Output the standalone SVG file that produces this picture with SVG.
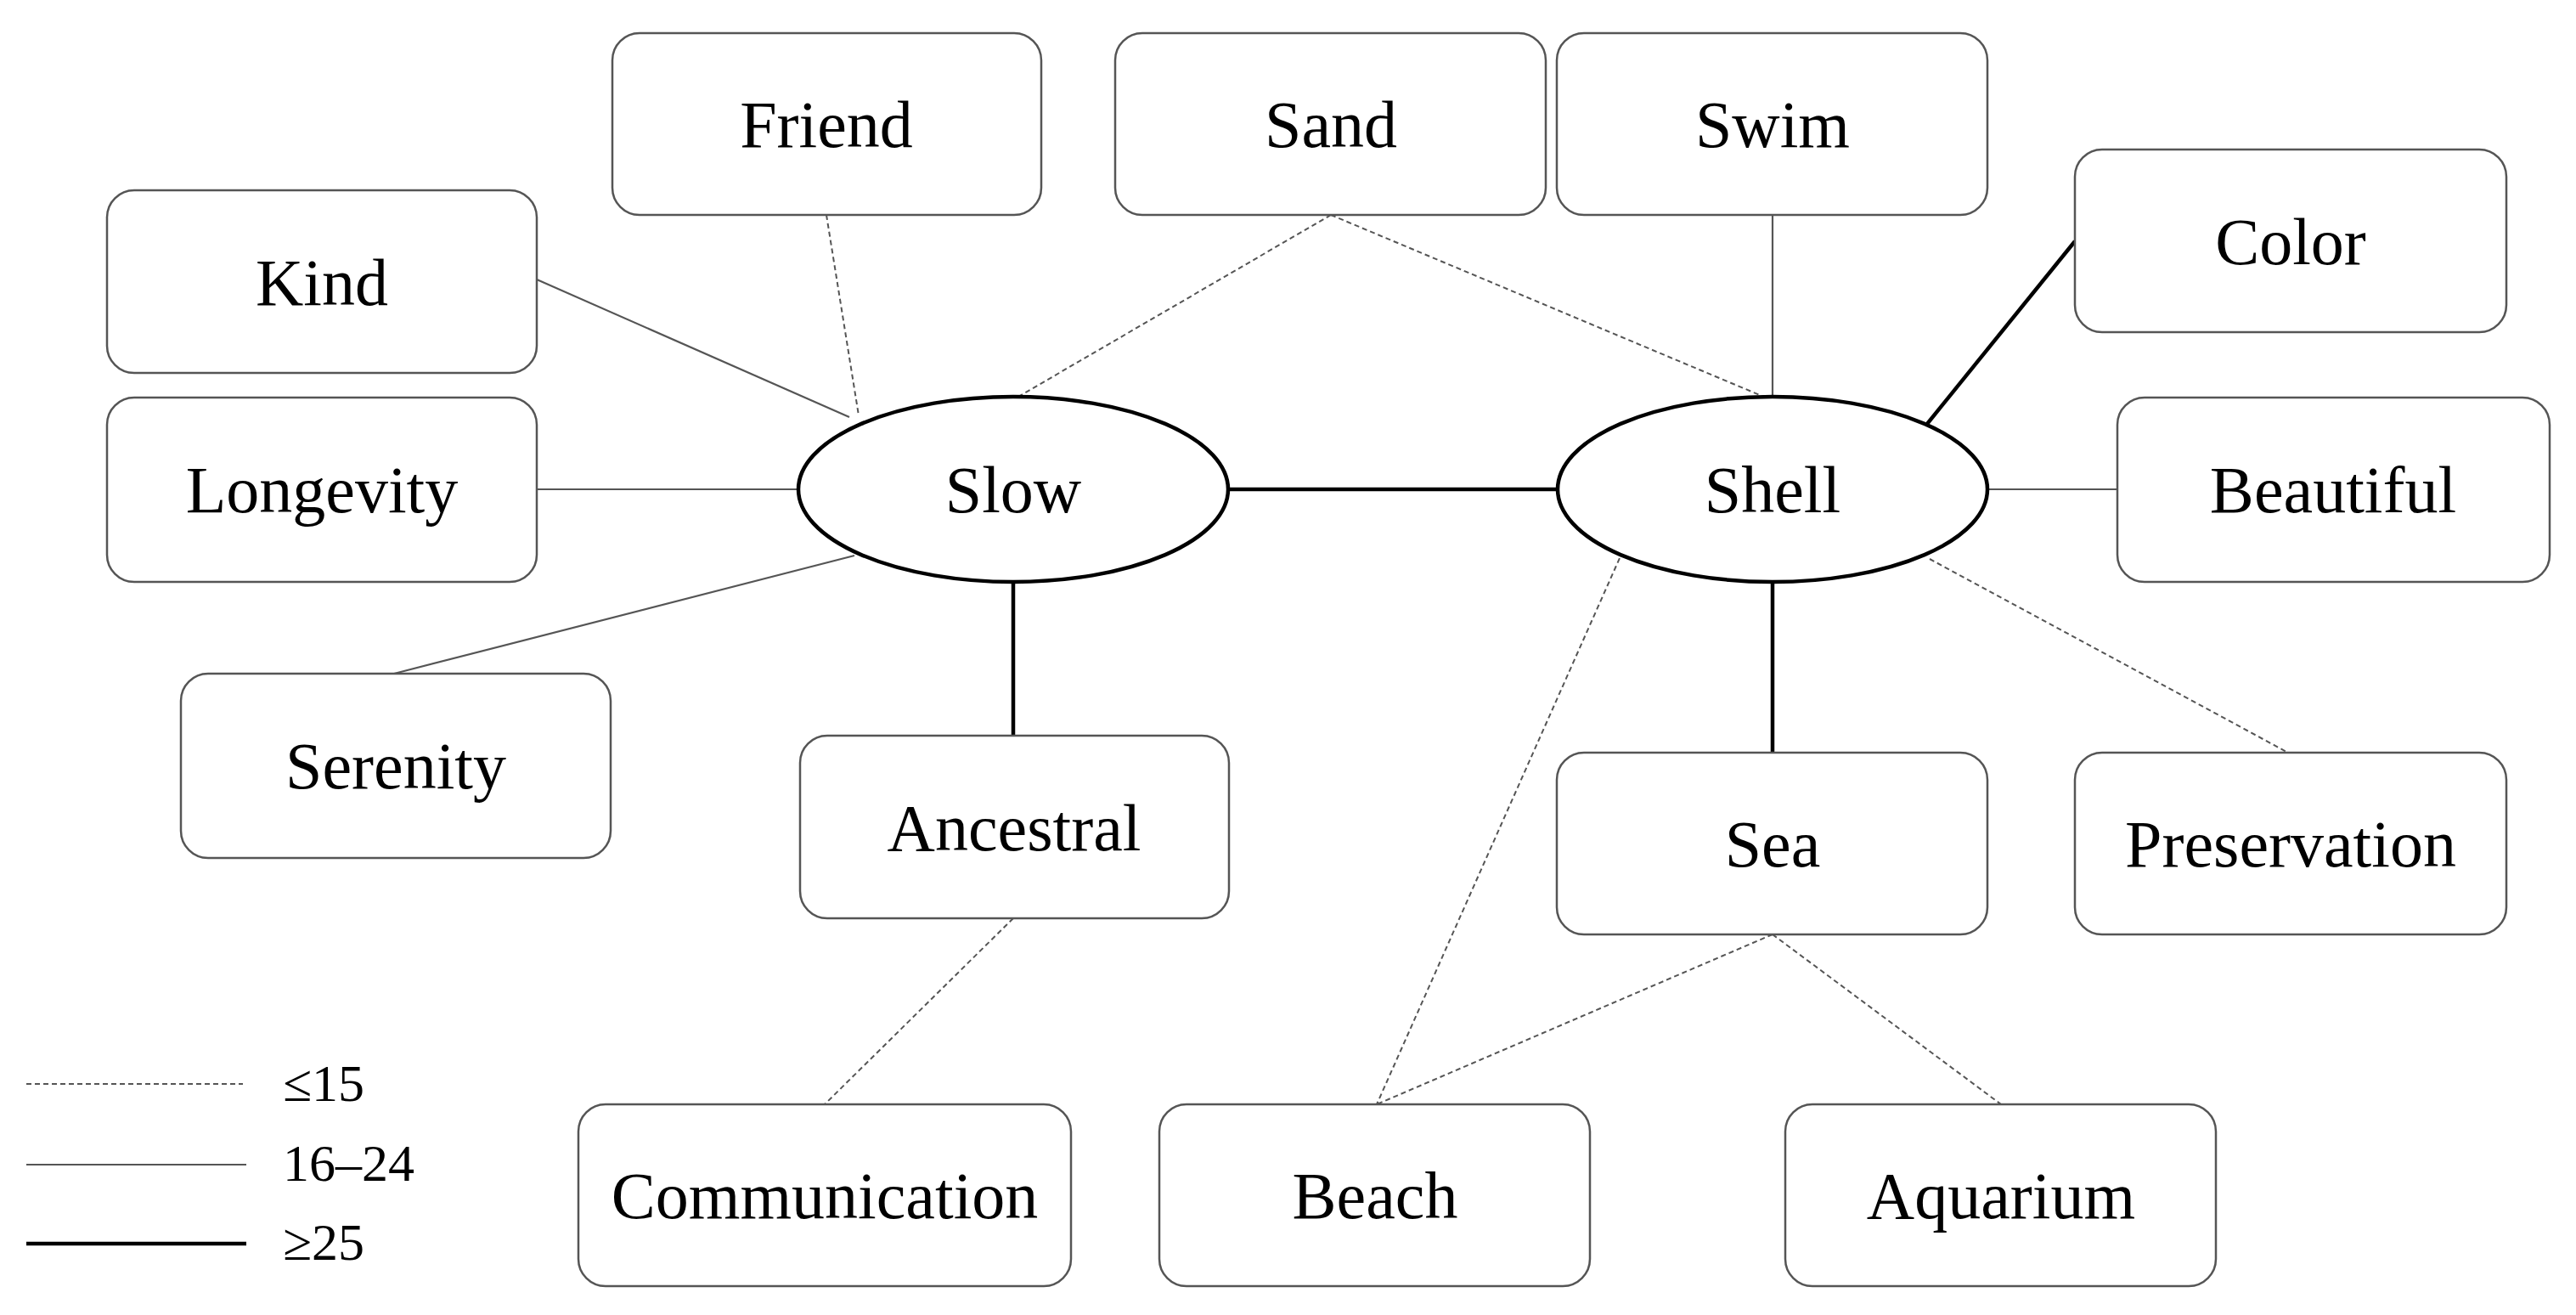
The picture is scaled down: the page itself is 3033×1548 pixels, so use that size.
<svg xmlns="http://www.w3.org/2000/svg" width="3033" height="1548" viewBox="0 0 3033 1548">
<style>
.b{fill:#fff;stroke:#555;stroke-width:2.5}
.e{fill:#fff;stroke:#000;stroke-width:4.5}
text{font-family:"Liberation Serif","Times New Roman",serif;font-size:78px;fill:#000;text-anchor:middle}
.lg{font-size:62px;text-anchor:start}
.d{stroke:#555;stroke-width:2;stroke-dasharray:6 4;fill:none}
.m{stroke:#555;stroke-width:2.2;fill:none}
.t{stroke:#000;stroke-width:4.5;fill:none}
</style>
<rect width="3033" height="1548" fill="#fff"/>
<g id="connectors">
<line class="t" x1="1447" y1="576" x2="1834" y2="576"/>
<line class="t" x1="1193" y1="687" x2="1193" y2="866"/>
<line class="t" x1="2087" y1="686" x2="2087" y2="886"/>
<line class="t" x1="2269" y1="499" x2="2443" y2="284"/>
<line class="m" x1="632" y1="329" x2="1000" y2="491"/>
<line class="m" x1="632" y1="576" x2="940" y2="576"/>
<line class="m" x1="464" y1="793" x2="1006" y2="654"/>
<line class="m" x1="2087" y1="253" x2="2087" y2="466"/>
<line class="m" x1="2340" y1="576" x2="2493" y2="576"/>
<line class="d" x1="973" y1="253" x2="1011" y2="489"/>
<line class="d" x1="1567" y1="253" x2="1199" y2="467"/>
<line class="d" x1="1567" y1="253" x2="2079" y2="468"/>
<line class="d" x1="1193" y1="1081" x2="971" y2="1300"/>
<line class="d" x1="1911" y1="648" x2="1621" y2="1300"/>
<line class="d" x1="2087" y1="1100" x2="1621" y2="1300"/>
<line class="d" x1="2087" y1="1100" x2="2356" y2="1300"/>
<line class="d" x1="2272" y1="658" x2="2694" y2="886"/>
</g>
<g id="friend"><rect class="b" x="721" y="39" width="505" height="214" rx="32"/><text x="973" y="173">Friend</text></g>
<g id="sand"><rect class="b" x="1313" y="39" width="507" height="214" rx="32"/><text x="1567" y="173">Sand</text></g>
<g id="swim"><rect class="b" x="1833" y="39" width="507" height="214" rx="32"/><text x="2087" y="173">Swim</text></g>
<g id="color"><rect class="b" x="2443" y="176" width="508" height="215" rx="32"/><text x="2697" y="311">Color</text></g>
<g id="kind"><rect class="b" x="126" y="224" width="506" height="215" rx="32"/><text x="379" y="359">Kind</text></g>
<g id="longevity"><rect class="b" x="126" y="468" width="506" height="217" rx="32"/><text x="379" y="603">Longevity</text></g>
<g id="serenity"><rect class="b" x="213" y="793" width="506" height="217" rx="32"/><text x="466" y="928">Serenity</text></g>
<g id="ancestral"><rect class="b" x="942" y="866" width="505" height="215" rx="32"/><text x="1194" y="1001">Ancestral</text></g>
<g id="beautiful"><rect class="b" x="2493" y="468" width="509" height="217" rx="32"/><text x="2747" y="603">Beautiful</text></g>
<g id="sea"><rect class="b" x="1833" y="886" width="507" height="214" rx="32"/><text x="2087" y="1020">Sea</text></g>
<g id="preservation"><rect class="b" x="2443" y="886" width="508" height="214" rx="32"/><text x="2697" y="1020">Preservation</text></g>
<g id="communication"><rect class="b" x="681" y="1300" width="580" height="214" rx="32"/><text x="971" y="1434">Communication</text></g>
<g id="beach"><rect class="b" x="1365" y="1300" width="507" height="214" rx="32"/><text x="1619" y="1434">Beach</text></g>
<g id="aquarium"><rect class="b" x="2102" y="1300" width="507" height="214" rx="32"/><text x="2356" y="1434">Aquarium</text></g>
<g id="slow"><ellipse class="e" cx="1193" cy="576" rx="253" ry="109"/><text x="1193" y="603">Slow</text></g>
<g id="shell"><ellipse class="e" cx="2087" cy="576" rx="253" ry="109"/><text x="2087" y="603">Shell</text></g>
<g id="legend">
<line class="d" x1="31" y1="1276" x2="286" y2="1276"/>
<line class="m" x1="31" y1="1371" x2="290" y2="1371"/>
<line class="t" x1="31" y1="1464" x2="290" y2="1464"/>
<text class="lg" x="333" y="1296">≤15</text>
<text class="lg" x="333" y="1390">16–24</text>
<text class="lg" x="333" y="1483">≥25</text>
</g>
</svg>
